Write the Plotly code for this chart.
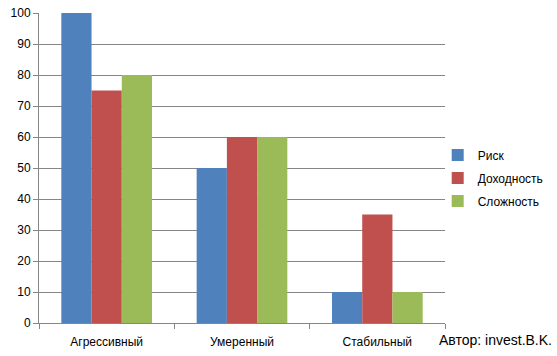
import plotly.graph_objects as go

categories = ["Агрессивный", "Умеренный", "Стабильный"]
risk = [100, 50, 10]
income = [75, 60, 35]
complexity = [80, 60, 10]
series_names = ["Риск", "Доходность", "Сложность"]
colors = ["#4F81BD", "#C0504D", "#9BBB59"]
y_ticks = list(range(0, 101, 10))

fig = go.Figure()
for name, vals, col in zip(series_names, [risk, income, complexity], colors):
    fig.add_trace(go.Bar(x=categories, y=vals, name=name, legendgroup=name,
                         marker=dict(color=col, line=dict(width=0))))

font_family = "Liberation Sans, Arial, sans-serif"
fig.update_layout(
    width=557, height=356,
    margin=dict(l=39, r=112, t=13, b=33, autoexpand=False),
    paper_bgcolor="white", plot_bgcolor="white",
    barmode="group", bargap=0.33, bargroupgap=0,
    font=dict(family=font_family, size=12, color="black"),
    showlegend=True,
    legend=dict(x=0.982, y=0.468, xanchor="left", yanchor="middle",
                font=dict(size=12), itemsizing="constant", itemwidth=30,
                traceorder="grouped", tracegroupgap=4,
                bgcolor="rgba(0,0,0,0)"),
    xaxis=dict(showline=True, linecolor="#868686", linewidth=1, automargin=False,
               ticks="outside", tickson="boundaries", ticklen=5, tickcolor="#868686",
               ticklabelstandoff=8,
               showgrid=False, tickfont=dict(size=12)),
    yaxis=dict(range=[0, 100], tickvals=y_ticks, showline=True, linecolor="#868686", linewidth=1,
               automargin=False,
               ticks="outside", ticklen=5, tickcolor="#868686",
               showgrid=True, gridcolor="#868686", gridwidth=1, zeroline=False,
               tickfont=dict(size=12)),
)
fig.add_annotation(text="Автор: invest.B.K.", xref="paper", yref="paper",
                   x=1.0, y=0, xanchor="left", yanchor="middle", yshift=-17, xshift=-8,
                   showarrow=False, font=dict(size=14, color="black"))
fig.write_html("out.html", config={"displayModeBar": False},
               post_script="document.body.style.margin='0';")
